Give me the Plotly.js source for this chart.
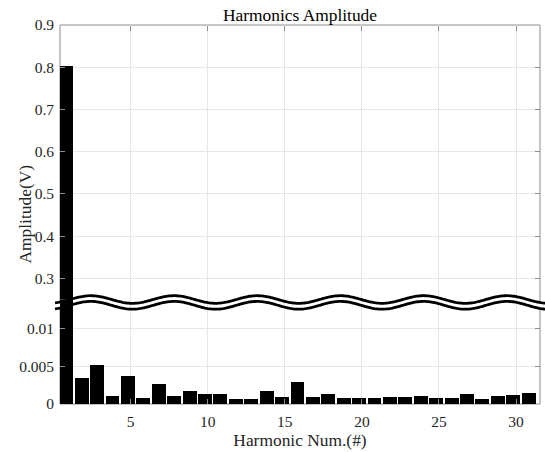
<!DOCTYPE html>
<html>
<head>
<meta charset="utf-8">
<script src="https://cdn.plot.ly/plotly-3.0.1.min.js"></script>
<style>html,body{margin:0;padding:0;background:#fff;}#chart{width:545px;height:452px;}</style>
</head>
<body>
<div id="chart"></div>
<script>
// ---- data ----
const harmonics = [1,2,3,4,5,6,7,8,9,10,11,12,13,14,15,16,17,18,19,20,21,22,23,24,25,26,27,28,29,30,31];
const amplitude = [0.804,0.0034,0.0052,0.00104,0.0037,0.00086,0.0026,0.00108,0.00167,0.00126,0.00126,0.00063,0.00063,0.00167,0.00095,0.00293,0.00095,0.00126,0.00081,0.00081,0.00081,0.00095,0.00095,0.00108,0.00081,0.00081,0.00126,0.00063,0.00104,0.00117,0.0014];
const xTicks = [5,10,15,20,25,30];
const lowTicks = [0,0.005,0.01];
const lowTickText = ['0','0.005','0.01'];
const highTicks = [0.3,0.4,0.5,0.6,0.7,0.8,0.9];
const highTickText = ['0.3','0.4','0.5','0.6','0.7','0.8','0.9'];
const lowRange = [0, 0.01385];
const highRange = [0.25, 0.9];

// ---- geometry helpers (pixels -> paper) ----
const W = 545, H = 452;
const M = {l:60, r:5, t:25, b:48};
const PW = W - M.l - M.r, PH = H - M.t - M.b;
const px2x = px => (px - M.l) / PW;
const py2y = py => (H - M.b - py) / PH;
const breakFrac = py2y(299.4);

const font = '"Liberation Serif", "Times New Roman", serif';
const txt = '#262626';
const tickCol = '#8c8c8c';
const gridCol = '#e6e6e6';

const barStyle = {type:'bar', marker:{color:'#000000', line:{width:0}}, width:0.9, offset:-0.63, hoverinfo:'x+y', showlegend:false};
const traces = [
  Object.assign({x:harmonics, y:amplitude, xaxis:'x', yaxis:'y'}, barStyle),
  Object.assign({x:harmonics, y:amplitude, xaxis:'x', yaxis:'y2'}, barStyle),
  {x:[], y:[], xaxis:'x3', yaxis:'y2', type:'scatter', showlegend:false, hoverinfo:'skip'}
];

// wavy break band
function wave(mid, amp, x0, x1) {
  const pts = [];
  for (let px = x0; px <= x1 + 0.01; px += 1.5) {
    const py = mid - amp * Math.cos(2 * Math.PI * (px - 90.8) / 83.2);
    pts.push([px2x(px), py2y(py)]);
  }
  return pts;
}
const up = wave(299.5, 3.8, 55, 546);
const lo = wave(305.3, 3.9, 55, 546);
const toPath = (pts, start) => pts.map((p, i) => ((i === 0 && start) ? 'M' : 'L') + p[0].toFixed(5) + ',' + p[1].toFixed(5)).join(' ');
const bandPath = toPath(up, true) + ' ' + toPath(lo.slice().reverse(), false) + ' Z';

const shapes = [
  {type:'rect', xref:'paper', yref:'paper', x0:0, x1:1, y0:0, y1:1, line:{color:tickCol, width:1}, fillcolor:'rgba(0,0,0,0)', layer:'between'},
  {type:'path', xref:'paper', yref:'paper', path:bandPath, fillcolor:'#ffffff', line:{width:0}, layer:'between'},
  {type:'path', xref:'paper', yref:'paper', path:toPath(up, true), line:{color:'#000000', width:2.8}, layer:'above'},
  {type:'path', xref:'paper', yref:'paper', path:toPath(lo, true), line:{color:'#000000', width:2.8}, layer:'above'}
];

const layout = {
  width:W, height:H,
  margin:M,
  paper_bgcolor:'#ffffff', plot_bgcolor:'rgba(0,0,0,0)',
  font:{family:font, color:txt, size:15.5},
  title:{text:'Harmonics Amplitude', font:{family:font, size:17.4, color:'#000000'}, x:0.5, xref:'paper', xanchor:'center', y:1, yref:'paper', yanchor:'bottom', pad:{b:4}},
  bargap:0,
  xaxis:{anchor:'y', range:[0.412, 31.557], tickmode:'array', tickvals:xTicks, ticktext:xTicks.map(String),
         ticks:'inside', ticklen:5, tickcolor:tickCol, showgrid:true, gridcolor:gridCol, zeroline:false, showline:false,
         tickfont:{family:font, size:15.5, color:txt}, ticklabelstandoff:6,
         title:{text:'Harmonic Num.(#)', font:{family:font, size:17.4, color:txt}, standoff:5}},
  xaxis3:{matches:'x', overlaying:'x', side:'top', anchor:'free', position:1, tickmode:'array', tickvals:xTicks,
          ticks:'inside', ticklen:5, tickcolor:tickCol, showticklabels:false, showgrid:false, zeroline:false, showline:false},
  yaxis:{domain:[0, breakFrac], range:lowRange, tickmode:'array', tickvals:lowTicks, ticktext:lowTickText,
         ticks:'inside', ticklen:5, tickcolor:tickCol, mirror:'ticks', showgrid:true, gridcolor:gridCol, zeroline:false, showline:false,
         tickfont:{family:font, size:15.5, color:txt}, ticklabelstandoff:5},
  yaxis2:{domain:[breakFrac, 1], range:highRange, anchor:'x', tickmode:'array', tickvals:highTicks, ticktext:highTickText,
          ticks:'inside', ticklen:5, tickcolor:tickCol, mirror:'ticks', showgrid:true, gridcolor:gridCol, zeroline:false, showline:false,
          tickfont:{family:font, size:15.5, color:txt}, ticklabelstandoff:5},
  shapes:shapes,
  annotations:[
    {text:'Amplitude(V)', xref:'paper', yref:'paper', x:px2x(24), y:0.5, xanchor:'center', yanchor:'middle', textangle:-90, showarrow:false,
     font:{family:font, size:17.4, color:txt}}
  ]
};

Plotly.newPlot('chart', traces, layout, {displayModeBar:false, staticPlot:true});
</script>
</body>
</html>
